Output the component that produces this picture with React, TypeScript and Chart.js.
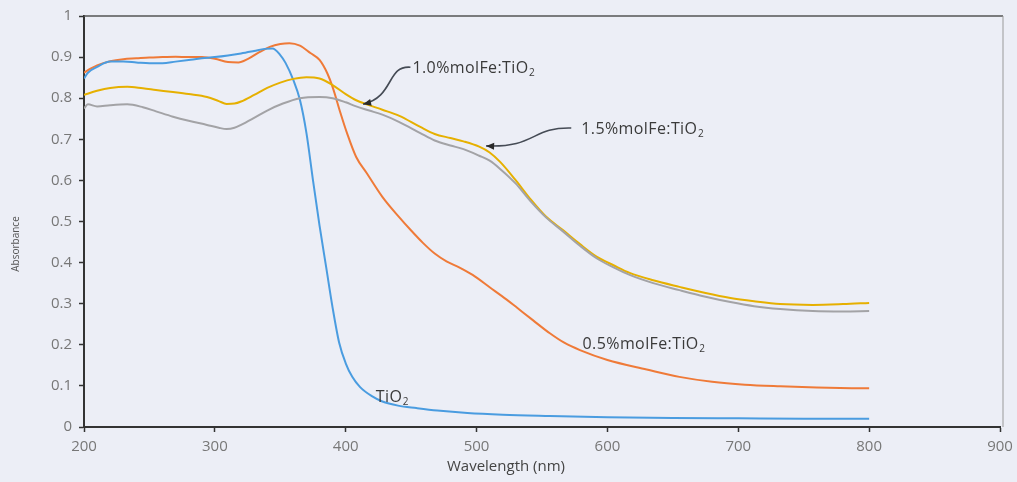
import React, { useEffect, useRef } from "react";
import { Chart, registerables } from "chart.js";

Chart.register(...registerables);

// ---- data ----
const tio2Wl = [200, 203, 210, 220, 230, 240, 250, 260, 270, 280, 290, 300, 310, 320, 330, 338, 344, 350, 354, 360, 365, 370, 375, 380, 385, 390, 395, 400, 405, 411, 420, 428, 440, 454, 470, 493, 520, 556, 600, 650, 700, 750, 800];
const tio2Abs = [0.848, 0.862, 0.876, 0.889, 0.889, 0.887, 0.885, 0.885, 0.889, 0.893, 0.897, 0.9, 0.904, 0.909, 0.915, 0.92, 0.921, 0.905, 0.886, 0.844, 0.796, 0.715, 0.6, 0.49, 0.39, 0.29, 0.205, 0.155, 0.122, 0.097, 0.075, 0.062, 0.052, 0.046, 0.04, 0.034, 0.03, 0.027, 0.024, 0.022, 0.021, 0.02, 0.02];

const fe05Wl = [200, 205, 210, 220, 230, 240, 250, 260, 270, 280, 290, 300, 310, 318, 325, 334, 342, 350, 357, 365, 373, 380, 386, 390, 396, 401, 408, 416, 428, 441, 450, 459, 468, 477, 487, 497, 510, 523, 531, 543, 556, 567, 579, 600, 630, 655, 680, 705, 732, 760, 800];
const fe05Abs = [0.862, 0.872, 0.88, 0.89, 0.895, 0.897, 0.899, 0.9, 0.901, 0.9, 0.9, 0.896, 0.888, 0.887, 0.895, 0.912, 0.925, 0.932, 0.934, 0.928, 0.91, 0.893, 0.86, 0.827, 0.764, 0.715, 0.657, 0.618, 0.56, 0.51, 0.478, 0.448, 0.422, 0.403, 0.388, 0.37, 0.34, 0.31, 0.29, 0.26, 0.228, 0.205, 0.187, 0.163, 0.14, 0.122, 0.11, 0.103, 0.099, 0.096, 0.094];

const fe10Wl = [200, 210, 220, 233, 245, 255, 268, 280, 294, 303, 309, 315, 320, 330, 340, 350, 360, 370, 380, 390, 400, 408, 416, 428, 441, 457, 468, 480, 490, 502, 510, 518, 530, 541, 553, 566, 579, 592, 605, 617, 635, 655, 675, 694, 712, 732, 757, 780, 800];
const fe10Abs = [0.808, 0.818, 0.825, 0.828, 0.824, 0.82, 0.815, 0.81, 0.803, 0.793, 0.786, 0.787, 0.792, 0.808, 0.825, 0.838, 0.847, 0.851, 0.848, 0.832, 0.81, 0.795, 0.785, 0.772, 0.757, 0.73, 0.713, 0.703, 0.695, 0.682, 0.668, 0.645, 0.6, 0.555, 0.512, 0.479, 0.445, 0.414, 0.393, 0.375, 0.357, 0.341, 0.326, 0.314, 0.306, 0.299, 0.297, 0.299, 0.302];

const fe15Wl = [200, 203, 210, 220, 233, 245, 255, 268, 280, 294, 303, 309, 315, 320, 330, 340, 352, 365, 380, 390, 400, 408, 418, 428, 441, 457, 468, 480, 490, 502, 510, 518, 530, 541, 553, 566, 579, 592, 605, 617, 635, 655, 675, 694, 712, 732, 757, 780, 800];
const fe15Abs = [0.775, 0.785, 0.78, 0.783, 0.785, 0.778, 0.768, 0.755, 0.745, 0.735, 0.728, 0.725, 0.728, 0.735, 0.752, 0.77, 0.787, 0.8, 0.803, 0.8, 0.79, 0.78, 0.77, 0.76, 0.742, 0.715, 0.697, 0.685, 0.676, 0.66, 0.648, 0.628, 0.592, 0.55, 0.51, 0.476, 0.441, 0.41, 0.388, 0.37, 0.35, 0.333, 0.317, 0.304, 0.294, 0.287, 0.282, 0.281, 0.282];

const xTicks = [200, 300, 400, 500, 600, 700, 800, 900];
const yTicks = [0, 0.1, 0.2, 0.3, 0.4, 0.5, 0.6, 0.7, 0.8, 0.9, 1];
const yTickLabels = ["0", "0.1", "0.2", "0.3", "0.4", "0.5", "0.6", "0.7", "0.8", "0.9", "1"];

const seriesNames = ["TiO2", "0.5%molFe:TiO2", "1.0%molFe:TiO2", "1.5%molFe:TiO2"];
const xTitle = "Wavelength (nm)";
const yTitle = "Absorbance";

const BG = "#eceef6";
const FONT = "'Open Sans', 'Liberation Sans', sans-serif";

function pts(w: number[], a: number[]) {
  return w.map((x, i) => ({ x, y: a[i] }));
}

function drawSub(ctx: CanvasRenderingContext2D, x: number, y: number, main: string, sub: string, size: number) {
  (ctx as any).letterSpacing = "0.4px";
  ctx.font = `${size}px ${FONT}`;
  ctx.textAlign = "left";
  ctx.textBaseline = "middle";
  ctx.fillText(main, x, y);
  const w = ctx.measureText(main).width;
  ctx.font = `${Math.round(size * 0.65)}px ${FONT}`;
  ctx.fillText(sub, x + w + 0.5, y + size * 0.3);
  (ctx as any).letterSpacing = "0px";
}

function arrow(ctx: CanvasRenderingContext2D, p: number[][]) {
  const [s, c1, c2, e] = p;
  ctx.beginPath();
  ctx.moveTo(s[0], s[1]);
  ctx.bezierCurveTo(c1[0], c1[1], c2[0], c2[1], e[0], e[1]);
  ctx.stroke();
  const ang = Math.atan2(e[1] - c2[1], e[0] - c2[0]);
  const L = 8, W = 3.5;
  ctx.beginPath();
  ctx.moveTo(e[0], e[1]);
  ctx.lineTo(e[0] - L * Math.cos(ang) + W * Math.sin(ang), e[1] - L * Math.sin(ang) - W * Math.cos(ang));
  ctx.lineTo(e[0] - L * Math.cos(ang) - W * Math.sin(ang), e[1] - L * Math.sin(ang) + W * Math.cos(ang));
  ctx.closePath();
  ctx.fill();
}

export default function App() {
  const ref = useRef<HTMLCanvasElement>(null);

  useEffect(() => {
    document.body.style.margin = "0";
    document.body.style.background = BG;
    const canvas = ref.current!;

    const bgPlugin = {
      id: "bg",
      beforeDraw(chart: any) {
        const c = chart.ctx;
        c.save();
        c.fillStyle = BG;
        c.fillRect(0, 0, chart.width, chart.height);
        c.restore();
      },
    };

    const annot = {
      id: "annot",
      afterDraw(chart: any) {
        const c: CanvasRenderingContext2D = chart.ctx;
        const xs = chart.scales.x, ys = chart.scales.y;
        const a = chart.chartArea;
        const px = (v: number) => xs.getPixelForValue(v);
        const py = (v: number) => ys.getPixelForValue(v);
        c.save();
        // frame: top and right
        c.strokeStyle = "#555";
        c.lineWidth = 1.5;
        c.beginPath();
        c.moveTo(a.left, a.top);
        c.lineTo(a.right + 3, a.top);
        c.stroke();
        c.strokeStyle = "#9a9a9a";
        c.lineWidth = 1;
        c.beginPath();
        c.moveTo(a.right + 3, a.top);
        c.lineTo(a.right + 3, a.bottom);
        c.stroke();

        // axis titles
        c.fillStyle = "#444";
        c.font = `15px ${FONT}`;
        c.textAlign = "center";
        c.textBaseline = "middle";
        c.fillText(xTitle, 506, 467);
        c.save();
        c.translate(16, 244);
        c.rotate(-Math.PI / 2);
        c.font = `10px ${FONT}`;
        c.fillStyle = "#555";
        c.fillText(yTitle, 0, 0);
        c.restore();

        // series labels
        c.fillStyle = "#3a3a3a";
        const l1x = px(451), l1y = py(0.873);
        drawSub(c, l1x, l1y, "1.0%molFe:TiO", "2", 16);
        const l2x = px(580), l2y = py(0.725);
        drawSub(c, l2x, l2y, "1.5%molFe:TiO", "2", 16);
        drawSub(c, px(581), py(0.2), "0.5%molFe:TiO", "2", 16);
        drawSub(c, px(423), py(0.072), "TiO", "2", 16);

        // arrows
        c.strokeStyle = "#454b55";
        c.fillStyle = "#2a2a2a";
        c.lineWidth = 1.6;
        const t1x = px(411), t1y = py(0.788);
        arrow(c, [[l1x - 2, l1y - 1], [l1x - 26, l1y - 3], [l1x - 18, t1y - 6], [t1x + 3, t1y + 1]]);
        const t2x = px(505), t2y = py(0.684);
        arrow(c, [[l2x - 10, l2y - 1], [l2x - 50, l2y - 2], [l2x - 45, t2y + 2], [t2x + 3, t2y]]);
        c.restore();
      },
    };

    const chart = new Chart(canvas, {
      type: "line",
      data: {
        datasets: [
          { label: seriesNames[3], data: pts(fe15Wl, fe15Abs), borderColor: "#a3a3a6", borderWidth: 2 },
          { label: seriesNames[2], data: pts(fe10Wl, fe10Abs), borderColor: "#e6b000", borderWidth: 2 },
          { label: seriesNames[0], data: pts(tio2Wl, tio2Abs), borderColor: "#4a9ce0", borderWidth: 2 },
          { label: seriesNames[1], data: pts(fe05Wl, fe05Abs), borderColor: "#ef7a38", borderWidth: 2 },
        ],
      },
      options: {
        animation: false,
        responsive: false,
        events: [],
        elements: {
          point: { radius: 0 },
          line: { cubicInterpolationMode: "monotone", fill: false },
        },
        layout: { padding: { left: 0, top: 16, right: 17, bottom: 0 } },
        plugins: { legend: { display: false }, tooltip: { enabled: false }, title: { display: false } },
        scales: {
          x: {
            type: "linear",
            min: 200,
            max: 900,
            afterBuildTicks: (s: any) => {
              s.ticks = xTicks.map((v) => ({ value: v }));
            },
            afterFit: (s: any) => {
              s.height = 55;
              s.paddingLeft = 0;
              s.paddingRight = 0;
            },
            grid: { drawOnChartArea: false, tickLength: 5, tickColor: "#333", tickWidth: 1.5 },
            border: { display: true, color: "#333", width: 2 },
            ticks: { color: "#777", font: { size: 15, family: FONT }, padding: 6, maxRotation: 0 },
          },
          y: {
            type: "linear",
            min: 0,
            max: 1,
            afterBuildTicks: (s: any) => {
              s.ticks = yTicks.map((v) => ({ value: v }));
            },
            afterFit: (s: any) => {
              s.width = 84;
              s.paddingTop = 0;
              s.paddingBottom = 0;
            },
            grid: { drawOnChartArea: false, tickLength: 5, tickColor: "#333", tickWidth: 1.5 },
            border: { display: true, color: "#333", width: 2 },
            ticks: {
              color: "#777",
              font: { size: 15, family: FONT },
              padding: 7,
              callback: (_v: any, i: number) => yTickLabels[i],
            },
          },
        },
      },
      plugins: [bgPlugin, annot],
    } as any);

    return () => chart.destroy();
  }, []);

  return (
    <div style={{ position: "absolute", left: 0, top: 0, width: 1017, height: 482, background: BG }}>
      <canvas ref={ref} width={1017} height={482} style={{ display: "block", width: 1017, height: 482 }} />
    </div>
  );
}
